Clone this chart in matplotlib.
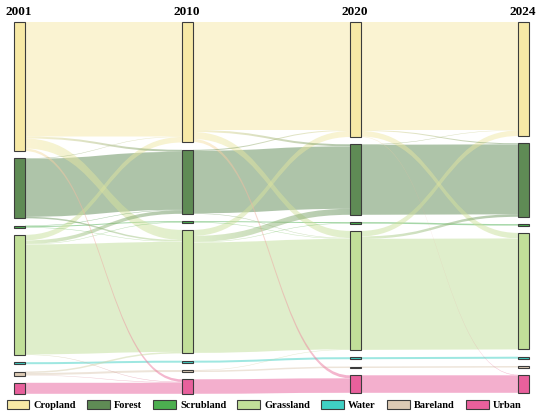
import numpy as np
import matplotlib
matplotlib.use('Agg')
import matplotlib.pyplot as plt
from matplotlib.path import Path
from matplotlib.patches import PathPatch, Rectangle, Patch
from matplotlib.colors import to_rgba

plt.rcParams['font.family'] = ['Liberation Serif', 'DejaVu Serif']

# Land-use classes and their colours
years = ['2001', '2010', '2020', '2024']
classes = ['Cropland', 'Forest', 'Scrubland', 'Grassland', 'Water', 'Bareland', 'Urban']
colors = ['#f7e9a6', '#5f8b55', '#4caf50', '#c1df99', '#3fd0c4', '#dccab4', '#e8609c']

# Transitions (source, target, area)
flows_2001_2010 = [
    ('Cropland', 'Cropland', 114.5), ('Cropland', 'Forest', 2.0),
    ('Cropland', 'Grassland', 10.0), ('Cropland', 'Urban', 2.5),
    ('Forest', 'Cropland', 0.5), ('Forest', 'Forest', 58.0), ('Forest', 'Grassland', 1.5),
    ('Scrubland', 'Forest', 0.5), ('Scrubland', 'Scrubland', 1.0), ('Scrubland', 'Grassland', 0.5),
    ('Grassland', 'Cropland', 5.5), ('Grassland', 'Forest', 3.5), ('Grassland', 'Scrubland', 0.5),
    ('Grassland', 'Grassland', 110.0), ('Grassland', 'Urban', 0.5),
    ('Water', 'Water', 2.0),
    ('Bareland', 'Grassland', 1.5), ('Bareland', 'Bareland', 2.0), ('Bareland', 'Urban', 0.5),
    ('Urban', 'Urban', 11.0),
]
flows_2010_2020 = [
    ('Cropland', 'Cropland', 108.0), ('Cropland', 'Forest', 2.0),
    ('Cropland', 'Grassland', 7.0), ('Cropland', 'Urban', 3.0),
    ('Forest', 'Cropland', 1.0), ('Forest', 'Forest', 62.5), ('Forest', 'Grassland', 0.5),
    ('Scrubland', 'Scrubland', 1.0), ('Scrubland', 'Grassland', 0.5),
    ('Grassland', 'Cropland', 6.0), ('Grassland', 'Forest', 6.0), ('Grassland', 'Scrubland', 0.5),
    ('Grassland', 'Grassland', 110.5),
    ('Water', 'Water', 2.0),
    ('Bareland', 'Grassland', 0.5), ('Bareland', 'Bareland', 1.5),
    ('Urban', 'Urban', 14.5),
]
flows_2020_2024 = [
    ('Cropland', 'Cropland', 108.0), ('Cropland', 'Forest', 1.0),
    ('Cropland', 'Grassland', 5.5), ('Cropland', 'Urban', 0.5),
    ('Forest', 'Cropland', 0.5), ('Forest', 'Forest', 70.0),
    ('Scrubland', 'Scrubland', 1.5),
    ('Grassland', 'Cropland', 5.5), ('Grassland', 'Forest', 2.5), ('Grassland', 'Grassland', 111.0),
    ('Water', 'Water', 2.0),
    ('Bareland', 'Bareland', 1.5),
    ('Urban', 'Urban', 17.5),
]
transitions = [flows_2001_2010, flows_2010_2020, flows_2020_2024]

gap = 7.3
min_h = 1.5
node_w = 10.5 / 168
flow_alpha = 0.5

n = len(classes)
idx = {c: i for i, c in enumerate(classes)}

# Node values per year = max(inflow, outflow)
outs = np.zeros((len(years), n))
ins = np.zeros((len(years), n))
for t, fl in enumerate(transitions):
    for s, d, v in fl:
        outs[t, idx[s]] += v
        ins[t + 1, idx[d]] += v
vals = np.maximum(outs, ins)

# Node vertical layout
node_y0 = np.zeros_like(vals)
node_h = np.zeros_like(vals)
for c in range(len(years)):
    cur = 0.0
    for k in range(n):
        h = max(vals[c, k], min_h)
        node_y0[c, k] = cur
        node_h[c, k] = h
        cur += h + gap

fig = plt.figure(figsize=(5.5, 4.19), dpi=100)
ax = fig.add_axes([0, 0, 1, 1])
x_left = -14 / 168
ax.axis('off')

# Links
for t, fl in enumerate(transitions):
    out_off = node_y0[t].copy()
    in_off = node_y0[t + 1].copy()
    sy = {}
    ty = {}
    for s, d, v in sorted(fl, key=lambda f: (idx[f[0]], idx[f[1]])):
        sy[(s, d)] = out_off[idx[s]]
        out_off[idx[s]] += v
    for s, d, v in sorted(fl, key=lambda f: (idx[f[1]], idx[f[0]])):
        ty[(s, d)] = in_off[idx[d]]
        in_off[idx[d]] += v
    xs = t + node_w
    xt = t + 1
    xm = (xs + xt) / 2
    for s, d, v in sorted(fl, key=lambda f: -f[2]):
        s0 = sy[(s, d)]
        t0 = ty[(s, d)]
        s1, t1 = s0 + v, t0 + v
        verts = [(xs, s0), (xm, s0), (xm, t0), (xt, t0), (xt, t1),
                 (xm, t1), (xm, s1), (xs, s1), (xs, s0)]
        codes = [Path.MOVETO, Path.CURVE4, Path.CURVE4, Path.CURVE4, Path.LINETO,
                 Path.CURVE4, Path.CURVE4, Path.CURVE4, Path.CLOSEPOLY]
        path = Path(verts, codes)
        if s == d:
            ax.add_patch(PathPatch(path, facecolor=colors[idx[s]], edgecolor='none',
                                   alpha=flow_alpha, zorder=1))
        else:
            # gradient from source colour to target colour
            c_src = np.array(to_rgba(colors[idx[s]]))
            c_tgt = np.array(to_rgba(colors[idx[d]]))
            patch = PathPatch(path, facecolor='none', edgecolor='none', transform=ax.transData)
            ax.add_patch(patch)
            frac = np.linspace(0, 1, 128)[:, None]
            grad = c_src * (1 - frac) + c_tgt * frac
            grad[:, 3] = flow_alpha
            lo, hi = min(s0, t0), max(s1, t1)
            im = ax.imshow(grad[None, :, :], extent=[xs, xt, hi, lo], aspect='auto',
                           interpolation='bilinear', zorder=2)
            im.set_clip_path(patch)

# Nodes
for c in range(len(years)):
    for k in range(n):
        ax.add_patch(Rectangle((c, node_y0[c, k]), node_w, node_h[c, k],
                               facecolor=colors[k], edgecolor='#3c3c3c', lw=0.8, zorder=3))
    ax.text(c + node_w / 2, -4, years[c], ha='center', va='bottom',
            fontsize=9.5, fontweight='bold')

ax.set_xlim(x_left, x_left + 550 / 168)
ax.set_ylim(419 - 22, -22)

handles = [Patch(facecolor=colors[k], edgecolor='#3c3c3c', lw=0.8) for k in range(n)]
fig.legend(handles, classes, loc='center', bbox_to_anchor=(0.48, 1 - 405 / 419), ncol=7,
           frameon=False, prop={'size': 7.5, 'weight': 'bold'}, handlelength=2.2,
           handleheight=1.05, handletextpad=0.4, columnspacing=1.05,
           borderaxespad=0, borderpad=0)

fig.savefig('out.png', dpi=100)
